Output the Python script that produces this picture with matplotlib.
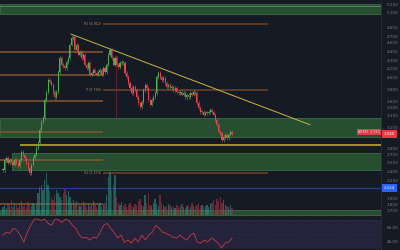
import matplotlib
matplotlib.use("Agg")
import matplotlib.pyplot as plt
import numpy as np

# candle closes (price units)
closes = [2.43, 2.60, 2.63, 2.55, 2.60, 2.57, 2.52, 2.60, 2.55, 2.50,
          2.60, 2.74, 2.69, 2.63, 2.55, 2.46, 2.38, 2.52, 2.63, 2.69,
          2.80, 2.89, 3.11, 3.25, 3.31, 3.62, 3.76, 3.96, 3.93, 3.88,
          3.76, 3.67, 3.76, 4.10, 4.33, 4.22, 4.20, 4.16, 4.27, 4.33,
          4.56, 4.67, 4.69, 4.47, 4.56, 4.39, 4.44, 4.33, 4.39, 4.22,
          4.16, 4.25, 4.05, 4.08, 4.13, 4.08, 4.05, 4.10, 4.13, 4.05,
          4.16, 4.10, 4.22, 4.39, 4.47, 4.33, 4.22, 4.33, 4.22, 4.18,
          4.25, 4.27, 4.25, 4.08, 4.01, 3.91, 3.82, 3.74, 3.84, 3.79,
          3.67, 3.57, 3.50, 3.59, 3.79, 3.88, 3.82, 3.62, 3.54, 3.62,
          3.67, 3.74, 4.01, 4.08, 4.01, 3.96, 3.99, 3.91, 3.84, 3.88,
          3.82, 3.84, 3.79, 3.82, 3.76, 3.74, 3.76, 3.71, 3.74, 3.67,
          3.71, 3.67, 3.74, 3.71, 3.76, 3.74, 3.57, 3.48, 3.42, 3.42,
          3.37, 3.40, 3.40, 3.42, 3.45, 3.42, 3.37, 3.28, 3.20, 3.08,
          3.06, 2.94, 2.99, 3.03, 2.97, 3.03, 3.08, 3.04]

volumes = [8, 10, 7, 12, 9, 15, 8, 11, 10, 7, 12, 14, 9, 10, 8, 13, 11, 9, 12, 10, 11,
           22, 28, 30, 25,
           35, 42, 30, 24,
           18, 15, 20, 25, 22,
           18, 15, 22, 26, 20, 24, 18,
           12, 15, 10, 14, 12, 9, 11, 13, 10, 8, 12, 9, 10, 14, 11, 8, 10, 12, 9, 11,
           12, 20, 38, 43, 25, 30, 40,
           18, 12, 10, 13, 9, 11, 8, 10, 12, 9, 8, 11, 10,
           14, 16, 10, 9, 20, 12, 22, 10, 9, 12, 16, 11, 9, 20, 12, 10, 8, 9, 11, 10,
           8, 9, 7, 10, 8, 9, 11, 8, 7, 9, 10, 8, 12, 9, 8, 10, 12, 9, 10, 8,
           9, 10, 8, 11, 12, 15, 10, 16, 14, 18, 12, 15, 10, 9, 8, 10, 7]

rsi = [48.6, 52.9, 51.4, 58.6, 55.7, 48.6, 38.6, 52.9, 62.9, 72.0,
       72.0, 70.0, 72.0, 65.7, 62.9, 72.0, 71.0, 67.1, 72.0, 70.0,
       62.9, 58.6, 48.6, 44.3, 45.7, 41.4, 45.7, 44.3, 52.9, 62.9,
       65.7, 58.6, 52.9, 44.3, 48.6, 38.6, 41.4, 37.1, 44.3, 38.6,
       48.6, 41.4, 48.6, 52.9, 62.9, 58.6, 52.9, 51.4, 48.6, 45.7,
       44.3, 48.6, 44.3, 41.4, 48.6, 51.4, 38.6, 37.1, 41.4, 38.6,
       44.3, 41.4, 37.1, 30.0, 37.1, 38.6, 44.3]

# zones (low, high, first bar)
zones = [(5.08, 5.25, -2), (2.99, 3.31, -2), (2.43, 2.72, 5.4), (1.665, 1.75, -2)]
support_level = 2.855
blue_level = 2.124
trend_x = [40.7, 183.6]
trend_y = [4.74, 3.20]
period_edges = [-2.0, 59.8, 158.5]
pivots_prev = [4.43, 4.045, 3.61, 3.08, 2.60, 1.852]
pivots_cur = [4.912, 3.79, 2.374]
pivot_names = ["R1", "P", "S1"]
marker_bar = 67.6
marker_range = (3.33, 4.39)

price_ticks = [5.25, 5.10, 4.85, 4.70, 4.60, 4.45, 4.30, 4.15, 4.00, 3.80, 3.60,
               3.50, 3.35, 3.15, 2.80, 2.70, 2.55, 2.40, 2.25, 1.95, 1.85, 1.75]
rsi_ticks = [60, 40]

bg = "#161a25"
up_c, dn_c = "#4caf50", "#e8434f"
txt_c = "#787b86"

closes = np.array(closes)
n = len(closes)
assert len(volumes) == n
idx = np.arange(n)
opens = np.r_[closes[0], closes[:-1]]
up = closes >= opens

fig = plt.figure(figsize=(4, 2.5), dpi=100, facecolor=bg)
ax = fig.add_axes([0, 0.134, 0.9525, 0.866], facecolor=bg)
axv = ax.twinx()
axr = fig.add_axes([0, 0, 0.9525, 0.132], facecolor=bg)

s = 229 / (n - 1)
xl = (-3 / s, 378 / s)

# zones
for lo, hi, x0 in zones:
    ax.fill_between([x0, xl[1]], lo, hi, facecolor="#2a5433", edgecolor="#3c7346",
                    lw=0.6, alpha=0.9, zorder=1)
ax.plot(xl, [5.22, 5.22], color="#6f9c78", lw=0.5, zorder=1)

# pivots
for lv in pivots_prev:
    ax.plot(period_edges[:2], [lv, lv], color="#87552b", lw=1.1, zorder=2,
            solid_capstyle="butt")
for lv, nm in zip(pivots_cur, pivot_names):
    ax.plot(period_edges[1:], [lv, lv], color="#704427", lw=1.1, zorder=2,
            solid_capstyle="butt")
    ax.text(period_edges[1] - 1, lv, f"{nm} ({lv:.3f})", fontsize=2.3, color="#b08a60",
            ha="right", va="center", zorder=3)

ax.plot(xl, [blue_level, blue_level], color="#1e3f8a", lw=0.9, zorder=2)
ax.plot([10, xl[1]], [support_level, support_level], color="#bca62f", lw=1.2, zorder=4,
        solid_capstyle="butt")
ax.plot(trend_x, trend_y, color="#c8b83c", lw=0.7, zorder=4)
ax.vlines(marker_bar, *marker_range, color="#7a2a30", lw=0.5, zorder=2)

# candles
cols = np.where(up, up_c, dn_c)
lo_b = np.minimum(opens, closes)
hi_b = np.maximum(opens, closes)
ax.vlines(idx, lo_b - 0.03, hi_b + 0.03, color=cols, lw=0.4, zorder=5)
ax.bar(idx, np.maximum(hi_b - lo_b, 0.01), bottom=lo_b, width=0.65, color=cols, zorder=6)

ax.set_xlim(*xl)
ax.set_ylim(1.64, 5.32)
ax.yaxis.tick_right()
ax.set_yticks(price_ticks)
ax.set_yticklabels([f"{t:.3f}" for t in price_ticks])
ax.tick_params(axis="y", length=0, labelsize=3, labelcolor=txt_c, pad=4)
ax.set_xticks([])

# volume overlay
vcols = np.where(up, "#2e8f80", "#9a3540")
axv.bar(idx, volumes, width=0.8, color=vcols, alpha=0.6, zorder=3)
axv.set_ylim(-1.5, 215)
axv.set_xlim(*xl)
axv.axis("off")

# last price and blue level tags
last = closes[-1]
ax.annotate(f"{last:.3f}", xy=(1.0, last), xycoords=("axes fraction", "data"),
            xytext=(2, 0), textcoords="offset points", fontsize=2.8, color="white",
            va="center", ha="left", annotation_clip=False,
            bbox=dict(boxstyle="square,pad=0.5", fc="#f23645", ec="none"))
ax.annotate("ARKM  3.043", xy=(1.0, last + 0.04), xycoords=("axes fraction", "data"),
            xytext=(-1, 0), textcoords="offset points", fontsize=2.4, color="#ffc9cd",
            va="center", ha="right", annotation_clip=False,
            bbox=dict(boxstyle="square,pad=0.3", fc="#d8404c", ec="none"))
ax.annotate(f"{blue_level:.3f}", xy=(1.0, blue_level), xycoords=("axes fraction", "data"),
            xytext=(2, 0), textcoords="offset points", fontsize=2.8, color="white",
            va="center", ha="left", annotation_clip=False,
            bbox=dict(boxstyle="square,pad=0.5", fc="#2962ff", ec="none"))

# RSI pane
axr.axhspan(30, 70, color="#7e57c2", alpha=0.15, lw=0)
for lv, ls in [(70, (0, (2, 2))), (50, (0, (1, 2))), (30, (0, (2, 2)))]:
    axr.axhline(lv, color="#3d3a55", lw=0.4, ls=ls)
axr.plot(np.linspace(0, n - 1, len(rsi)), rsi, color="#c43a47", lw=0.6)
axr.set_xlim(*xl)
axr.set_ylim(27, 75)
axr.yaxis.tick_right()
axr.set_yticks(rsi_ticks)
axr.set_yticklabels([f"{t:.2f}" for t in rsi_ticks])
axr.tick_params(axis="y", length=0, labelsize=3, labelcolor=txt_c, pad=4)
axr.set_xticks([])

for a in (ax, axr):
    for sp in a.spines.values():
        sp.set_visible(False)
    a.spines["right"].set_visible(True)
    a.spines["right"].set_color("#2a2e39")
    a.spines["right"].set_linewidth(0.6)
ax.spines["bottom"].set_visible(True)
ax.spines["bottom"].set_color("#2a2e39")
ax.spines["bottom"].set_linewidth(0.8)

fig.savefig("out.png", dpi=100, facecolor=bg)
